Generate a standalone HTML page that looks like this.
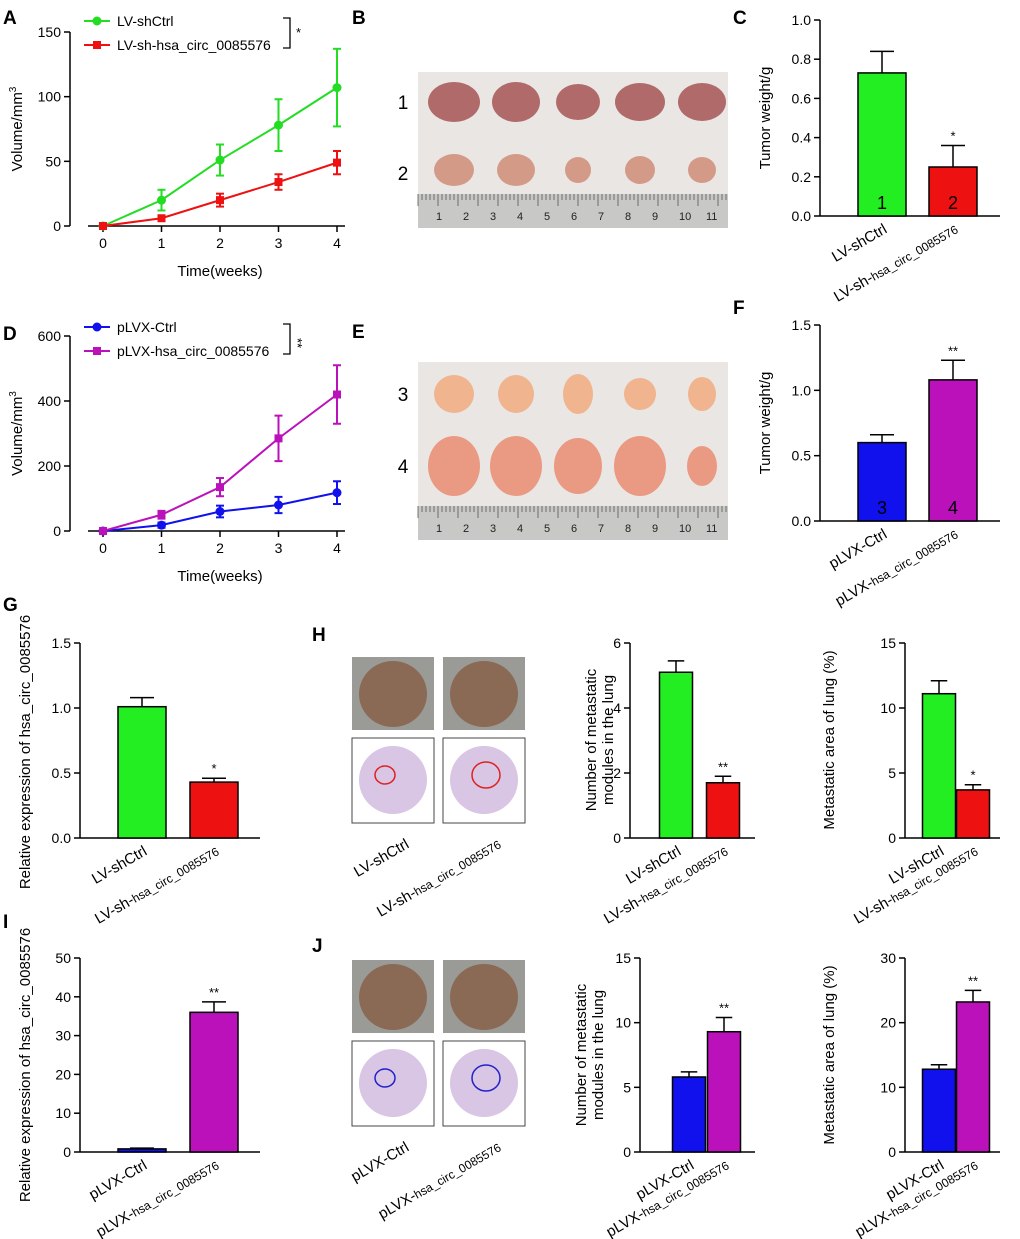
<!DOCTYPE html>
<html><head><meta charset="utf-8">
<style>
html,body{margin:0;padding:0;background:#fff;}
svg{display:block;font-family:"Liberation Sans",Arial,sans-serif;}
</style></head>
<body>
<svg id="fig" width="1020" height="1239" viewBox="0 0 1020 1239" xmlns="http://www.w3.org/2000/svg"></svg>
<script>
// ---- Data ----
const weeks=[0,1,2,3,4];
const aCtrl=[0,20,51,78,107];      const aCtrlErr=[0,8,12,20,30];
const aSh=[0,6,20,34,49];          const aShErr=[0,2,5,6,9];
const aTicks=[0,50,100,150];
const dCtrl=[0,18,60,80,118];      const dCtrlErr=[0,8,18,25,35];
const dOE=[0,50,135,285,420];      const dOEErr=[0,12,28,70,90];
const dTicks=[0,200,400,600];
const cCats=['LV-shCtrl','LV-sh-hsa_circ_0085576']; const cVals=[0.73,0.25]; const cErr=[0.11,0.11];
const cTicks=[0,0.2,0.4,0.6,0.8,1.0];
const fCats=['pLVX-Ctrl','pLVX-hsa_circ_0085576']; const fVals=[0.60,1.08]; const fErr=[0.06,0.15];
const fTicks=[0,0.5,1.0,1.5];
const gVals=[1.01,0.43]; const gErr=[0.07,0.03]; const gTicks=[0,0.5,1.0,1.5];
const h1Vals=[5.1,1.7]; const h1Err=[0.35,0.2]; const h1Ticks=[0,2,4,6];
const h2Vals=[11.1,3.7]; const h2Err=[1.0,0.4]; const h2Ticks=[0,5,10,15];
const iVals=[0.8,36]; const iErr=[0.2,2.7]; const iTicks=[0,10,20,30,40,50];
const j1Vals=[5.8,9.3]; const j1Err=[0.4,1.1]; const j1Ticks=[0,5,10,15];
const j2Vals=[12.8,23.2]; const j2Err=[0.7,1.8]; const j2Ticks=[0,10,20,30];

const NS='http://www.w3.org/2000/svg';
const svg=document.getElementById('fig');
function el(tag,attrs,parent,txt){const e=document.createElementNS(NS,tag);for(const k in attrs)e.setAttribute(k,attrs[k]);if(txt!==undefined)e.textContent=txt;(parent||svg).appendChild(e);return e;}
function fmt(v,dec){return dec?v.toFixed(1):String(v);}
function catLabel(g,x,y,name,fs){
  const t=el('text',{x:x,y:y,'text-anchor':'end','font-size':fs||15,transform:`rotate(-30 ${x} ${y})`},g);
  
  
  const i=name.indexOf('hsa');
  if(i<0){t.textContent=name;}else{
    el('tspan',{},t,name.slice(0,i));
    el('tspan',{'font-size':(fs||15)-3},t,name.slice(i));
  }
}
function yAxis(g,ax,yTop,yBot,ticks,dec,title,tx,ty){
  const max=ticks[ticks.length-1];
  const sy=v=>yBot-(v/max)*(yBot-yTop);
  const line=el('line',{x1:ax,y1:yTop,x2:ax,y2:yBot,stroke:'#000','stroke-width':1.5},g);
  
  
  ticks.forEach(v=>{
    el('line',{x1:ax-6,y1:sy(v),x2:ax,y2:sy(v),stroke:'#000','stroke-width':1.5},g);
    const t=el('text',{x:ax-9,y:sy(v)+5,'text-anchor':'end','font-size':14},g,fmt(v,dec));
    
    
  });
  if(title){
    const lines=Array.isArray(title)?title:[title];
    lines.forEach((s,k)=>{
      const x=tx+k*17;
      const t=el('text',{x:x,y:ty,'text-anchor':'middle','font-size':15,transform:`rotate(-90 ${x} ${ty})`},g,'');
      
      
      const m=s.match(/^(.*)mm3$/);
      if(m){el('tspan',{},t,m[1]+'mm');el('tspan',{'font-size':10,dy:-6},t,'3');}else t.textContent=s;
    });
  }
  return sy;
}
function barChart(o){
  const g=el('g',{},svg);
  
  
  const sy=yAxis(g,o.ax,o.yTop,o.yBot,o.ticks,o.dec,o.title,o.tx,o.ty);
  const xl=el('line',{x1:o.ax,y1:o.yBot,x2:o.xEnd,y2:o.yBot,stroke:'#000','stroke-width':1.5},g);
  
  
  o.vals.forEach((v,i)=>{
    const cx=o.cx[i],w=o.w;
    const top=sy(v),et=sy(v+o.err[i]);
    el('line',{x1:cx,y1:top,x2:cx,y2:et,stroke:'#000','stroke-width':1.5},g);
    el('line',{x1:cx-w*0.25,y1:et,x2:cx+w*0.25,y2:et,stroke:'#000','stroke-width':1.5},g);
    const r=el('rect',{x:cx-w/2,y:top,width:w,height:o.yBot-top,fill:o.colors[i],stroke:'#000','stroke-width':1.5},g);
    
    
    if(o.inside){const t=el('text',{x:cx,y:o.yBot-7,'text-anchor':'middle','font-size':18},g,o.inside[i]);
      
      }
    if(o.stars&&o.stars[i]){const t=el('text',{x:cx,y:et-5,'text-anchor':'middle','font-size':13},g,o.stars[i]);
      
      }
    catLabel(g,cx+6,o.yBot+16,o.cats[i]);
  });
}
function lineChart(o){
  const g=el('g',{},svg);
  
  
  const sy=yAxis(g,70,o.yTop,o.yBot,o.ticks,false,'Volume/mm3',22,(o.yTop+o.yBot)/2);
  const sx=w=>103+w*58.5;
  const xl=el('line',{x1:88,y1:o.yBot,x2:345,y2:o.yBot,stroke:'#000','stroke-width':1.5},g);
  
  
  weeks.forEach(w=>{
    el('line',{x1:sx(w),y1:o.yBot,x2:sx(w),y2:o.yBot+6,stroke:'#000','stroke-width':1.5},g);
    const t=el('text',{x:sx(w),y:o.yBot+22,'text-anchor':'middle','font-size':14},g,String(w));
    
    
  });
  const xt=el('text',{x:220,y:o.yBot+50,'text-anchor':'middle','font-size':15},g,'Time(weeks)');
  
  
  o.series.forEach((s,si)=>{
    const pts=weeks.map((w,i)=>sx(w)+','+sy(s.v[i])).join(' ');
    const pl=el('polyline',{points:pts,fill:'none',stroke:s.c,'stroke-width':2},g);
    
    
    weeks.forEach((w,i)=>{
      const x=sx(w),y1=sy(s.v[i]+s.e[i]),y2=sy(s.v[i]-s.e[i]);
      if(s.e[i]>0){el('line',{x1:x,y1:y1,x2:x,y2:y2,stroke:s.c,'stroke-width':2},g);
        el('line',{x1:x-4,y1:y1,x2:x+4,y2:y1,stroke:s.c,'stroke-width':2},g);
        el('line',{x1:x-4,y1:y2,x2:x+4,y2:y2,stroke:s.c,'stroke-width':2},g);}
      const m=s.shape==='sq'?el('rect',{x:x-4,y:sy(s.v[i])-4,width:8,height:8,fill:s.c},g):el('circle',{cx:x,cy:sy(s.v[i]),r:4.5,fill:s.c},g);
      
      
    });
    const ly=o.legY+si*24;
    el('line',{x1:84,y1:ly,x2:110,y2:ly,stroke:s.c,'stroke-width':2},g);
    if(s.shape==='sq')el('rect',{x:93,y:ly-4,width:8,height:8,fill:s.c},g);else el('circle',{cx:97,cy:ly,r:4.5,fill:s.c},g);
    const t=el('text',{x:117,y:ly+5,'font-size':14},g,s.name);
    
    
  });
  el('polyline',{points:`283,${o.legY-3} 290,${o.legY-3} 290,${o.legY+27} 283,${o.legY+27}`,fill:'none',stroke:'#000','stroke-width':1.3},g);
  const st=el('text',{x:296,y:o.legY+16,'font-size':13,transform:o.vertStar?`rotate(90 297 ${o.legY+12})`:''},g,o.star);
  
  
}
function panelLabel(x,y,s){const t=el('text',{x:x,y:y,'font-size':19,'font-weight':'bold'},svg,s);
  
  }
function photo(x,y,w,h,rows,name){
  const g=el('g',{},svg);
  
  
  el('rect',{x:x,y:y,width:w,height:h,fill:'#e9e6e3'},g);
  rows.forEach(r=>{for(let k=0;k<5;k++){el('ellipse',{cx:x+36+k*62,cy:r.y,rx:r.rx[k],ry:r.ry[k],fill:r.c},g);}});
  el('rect',{x:x,y:y+h-34,width:w,height:34,fill:'#c8c8c6'},g);
  for(let k=0;k<w;k+=4)el('line',{x1:x+k,y1:y+h-34,x2:x+k,y2:y+h-(k%20==0?22:28),stroke:'#555','stroke-width':0.8},g);
  for(let n=1;n<=11;n++)el('text',{x:x+18+(n-1)*27,y:y+h-8,'font-size':11,fill:'#222'},g,String(n));
}
function lungs(x,y,color,name,cat1,cat2){
  const g=el('g',{},svg);
  
  
  [0,91].forEach((dx,i)=>{
    el('rect',{x:x+dx,y:y,width:82,height:73,fill:'#9a9a96'},g);
    el('ellipse',{cx:x+dx+41,cy:y+37,rx:34,ry:33,fill:'#8a6a55'},g);
    el('rect',{x:x+dx,y:y+81,width:82,height:85,fill:'#fff',stroke:'#444'},g);
    el('ellipse',{cx:x+dx+41,cy:y+123,rx:34,ry:34,fill:'#d8c6e4'},g);
    el('ellipse',{cx:x+dx+33+i*10,cy:y+118,rx:10+i*4,ry:9+i*4,fill:'none',stroke:color,'stroke-width':1.5},g);
  });
  catLabel(g,x+58,y+190,cat1,15);
  catLabel(g,x+150,y+190,cat2,15);
}

panelLabel(3,24,'A');panelLabel(352,24,'B');panelLabel(733,24,'C');
panelLabel(3,340,'D');panelLabel(352,338,'E');panelLabel(733,314,'F');
panelLabel(3,611,'G');panelLabel(312,641,'H');panelLabel(3,928,'I');panelLabel(312,952,'J');

lineChart({name:'chart-a',yTop:32,yBot:226,ticks:aTicks,legY:21,star:'*',
  series:[{v:aCtrl,e:aCtrlErr,c:'#22dd22',shape:'c',name:'LV-shCtrl'},{v:aSh,e:aShErr,c:'#ee1111',shape:'sq',name:'LV-sh-hsa_circ_0085576'}]});
lineChart({name:'chart-d',yTop:336,yBot:531,ticks:dTicks,legY:327,star:'**',vertStar:true,
  series:[{v:dCtrl,e:dCtrlErr,c:'#1111ee',shape:'c',name:'pLVX-Ctrl'},{v:dOE,e:dOEErr,c:'#bb11bb',shape:'sq',name:'pLVX-hsa_circ_0085576'}]});

photo(418,72,310,156,[{y:102,c:'#b06a6a',rx:[26,24,22,25,24],ry:[20,20,18,19,19]},{y:170,c:'#d49a88',rx:[20,19,13,15,14],ry:[16,16,13,14,13]}],'tumor-photo-b');
photo(418,362,310,178,[{y:394,c:'#f0b48e',rx:[20,18,15,16,14],ry:[19,19,20,16,17]},{y:466,c:'#ea9a82',rx:[26,26,24,26,15],ry:[30,30,28,30,20]}],'tumor-photo-e');
[['1',403,109],['2',403,180],['3',403,401],['4',403,473]].forEach(a=>{const t=el('text',{x:a[1],y:a[2],'font-size':19,'text-anchor':'middle'},svg,a[0]);
  
  });

barChart({name:'chart-c',ax:820,xEnd:1000,yTop:20,yBot:216,ticks:cTicks,dec:true,vals:cVals,err:cErr,cx:[882,953],w:48,colors:['#22ee22','#ee1111'],cats:cCats,inside:['1','2'],stars:['','*'],title:'Tumor weight/g',tx:770,ty:118});
barChart({name:'chart-f',ax:820,xEnd:1000,yTop:325,yBot:521,ticks:fTicks,dec:true,vals:fVals,err:fErr,cx:[882,953],w:48,colors:['#1111ee','#bb11bb'],cats:fCats,inside:['3','4'],stars:['','**'],title:'Tumor weight/g',tx:770,ty:423});
barChart({name:'chart-g',ax:80,xEnd:260,yTop:643,yBot:838,ticks:gTicks,dec:true,vals:gVals,err:gErr,cx:[142,214],w:48,colors:['#22ee22','#ee1111'],cats:cCats,stars:['','*'],title:'Relative expression of hsa_circ_0085576',tx:30,ty:752});
barChart({name:'chart-h-nodules',ax:630,xEnd:755,yTop:643,yBot:838,ticks:h1Ticks,dec:false,vals:h1Vals,err:h1Err,cx:[676,723],w:33,colors:['#22ee22','#ee1111'],cats:cCats,stars:['','**'],title:['Number of metastatic','modules in the lung'],tx:596,ty:740});
barChart({name:'chart-h-area',ax:905,xEnd:1000,yTop:643,yBot:838,ticks:h2Ticks,dec:false,vals:h2Vals,err:h2Err,cx:[939,973],w:33,colors:['#22ee22','#ee1111'],cats:cCats,stars:['','*'],title:'Metastatic area of lung (%)',tx:834,ty:740});
barChart({name:'chart-i',ax:80,xEnd:260,yTop:958,yBot:1152,ticks:iTicks,dec:false,vals:iVals,err:iErr,cx:[142,214],w:48,colors:['#1111ee','#bb11bb'],cats:fCats,stars:['','**'],title:'Relative expression of hsa_circ_0085576',tx:30,ty:1065});
barChart({name:'chart-j-nodules',ax:640,xEnd:755,yTop:958,yBot:1152,ticks:j1Ticks,dec:false,vals:j1Vals,err:j1Err,cx:[689,724],w:33,colors:['#1111ee','#bb11bb'],cats:fCats,stars:['','**'],title:['Number of metastatic','modules in the lung'],tx:586,ty:1055});
barChart({name:'chart-j-area',ax:905,xEnd:1000,yTop:958,yBot:1152,ticks:j2Ticks,dec:false,vals:j2Vals,err:j2Err,cx:[939,973],w:33,colors:['#1111ee','#bb11bb'],cats:fCats,stars:['','**'],title:'Metastatic area of lung (%)',tx:834,ty:1055});

lungs(352,657,'#dd2222','lung-images-h','LV-shCtrl','LV-sh-hsa_circ_0085576');
lungs(352,960,'#2222cc','lung-images-j','pLVX-Ctrl','pLVX-hsa_circ_0085576');
</script>
</body></html>
